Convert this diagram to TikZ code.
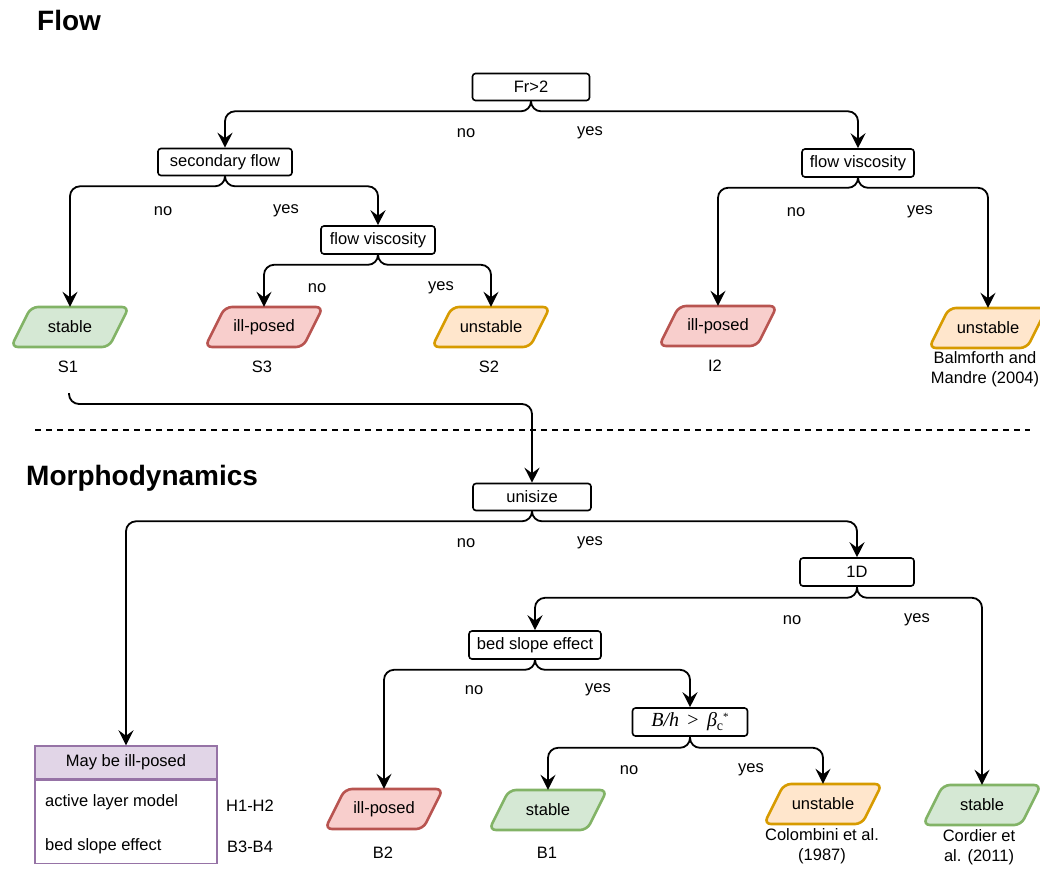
\documentclass[tikz,border=0pt]{standalone}
\usepackage[no-math]{fontspec}
\setmainfont{Liberation Sans}
\newfontfamily\serifm{Liberation Serif}
\usetikzlibrary{arrows.meta}
\definecolor{gstroke}{HTML}{82B366}
\definecolor{gfill}{HTML}{D5E8D4}
\definecolor{rstroke}{HTML}{B85450}
\definecolor{rfill}{HTML}{F8CECC}
\definecolor{ostroke}{HTML}{D79B00}
\definecolor{ofill}{HTML}{FFE6CC}
\definecolor{pstroke}{HTML}{9673A6}
\definecolor{pfill}{HTML}{E1D5E7}
\newcommand\paral[6]{%
  \draw[line width=2.6pt, draw=#4, fill=#5, rounded corners=7pt]
    (#2,#3) ++(-59,20) -- ++(98,0) -- ++(20,-40) -- ++(-98,0) -- cycle;
  \node[parabox] (#1) at (#2,#3) {#6};
}
\begin{document}
\begin{tikzpicture}[x=1pt,y=-1pt,
  font=\fontsize{16.5}{20}\selectfont,
  dec/.style={draw, line width=1.6pt, rounded corners=3pt, fill=white,
    minimum height=27pt, inner sep=2pt},
  conn/.style={line width=1.8pt, rounded corners=10pt,
    -{Stealth[length=15pt,width=15pt,inset=5.5pt]}},
  lab/.style={inner sep=0pt, align=center},
  parabox/.style={minimum width=118pt, minimum height=40pt, inner sep=0pt},
  title/.style={font=\fontsize{28}{32}\selectfont\bfseries, anchor=west, inner sep=0pt}
]
\useasboundingbox (0,0) rectangle (1040,868);

% titles
\node[title] (tflow) at (37,20) {Flow};
\node[title] (tmorph) at (26,478) {Morphodynamics};

% separator
\coordinate (sepL) at (35,430);
\coordinate (sepR) at (1030,430);
\draw[line width=1.3pt, dash pattern=on 6pt off 5pt] (sepL) -- (sepR);

% decision boxes
\node[dec, minimum width=117pt] (fr) at (531,87) {Fr>2};
\node[dec, minimum width=134pt] (sec) at (225,162) {secondary flow};
\node[dec, minimum width=114pt, minimum height=28pt] (fvA) at (378,240) {flow viscosity};
\node[dec, minimum width=112pt, minimum height=28pt] (fvB) at (858,163) {flow viscosity};
\node[dec, minimum width=118pt] (uni) at (532,497) {unisize};
\node[dec, minimum width=114pt, minimum height=28pt] (oned) at (857,572) {1D};
\node[dec, minimum width=132pt, minimum height=28pt] (bse) at (535,645) {bed slope effect};
\node[dec, minimum width=115pt, minimum height=28pt, font=\serifm\fontsize{20}{20}\selectfont] (bh) at (690,722)
  {\textit{B/h}\, >\, \textit{β}\raisebox{-4pt}{\fontsize{14}{14}\selectfont c}\raisebox{6pt}{\fontsize{11}{11}\selectfont *}};

% outcome parallelograms
\paral{s1}{70}{327}{gstroke}{gfill}{stable}
\paral{s3}{264}{327}{rstroke}{rfill}{ill-posed}
\paral{s2}{491}{327}{ostroke}{ofill}{unstable}
\paral{i2}{718}{326}{rstroke}{rfill}{ill-posed}
\paral{bm}{988}{328}{ostroke}{ofill}{unstable}
\paral{b2}{384}{809}{rstroke}{rfill}{ill-posed}
\paral{b1}{548}{810}{gstroke}{gfill}{stable}
\paral{col}{823}{804}{ostroke}{ofill}{unstable}
\paral{cor}{982}{805}{gstroke}{gfill}{stable}

% outcome labels
\node[lab] (ls1) at (68,367) {S1};
\node[lab] (ls3) at (262,367) {S3};
\node[lab] (ls2) at (489,367) {S2};
\node[lab] (li2) at (715,366) {I2};
\node[lab] (lbm) at (985,369) {Balmforth and\\Mandre (2004)};
\node[lab] (lb2) at (383,853) {B2};
\node[lab] (lb1) at (547,853) {B1};
\node[lab] (lcol) at (822,846) {Colombini et al.\\(1987)};
\node[lab] (lcor) at (979,847) {Cordier et\\al. (2011)};

% table
\node[draw=pstroke, fill=pfill, line width=1.5pt, minimum width=182pt, minimum height=33pt, inner sep=0pt] (hdr) at (126,762.5) {May be ill-posed};
\node[draw=pstroke, line width=1.5pt, minimum width=182pt, minimum height=83pt, inner sep=0pt, anchor=north] (body) at (hdr.south) {};
\node[lab, anchor=west] (r1) at (45,802) {active layer model};
\node[lab, anchor=west] (r2) at (45,846) {bed slope effect};
\node[lab] (h12) at (250,806) {H1-H2};
\node[lab] (b34) at (250,847) {B3-B4};

% yes/no labels
\node[lab] (n1) at (466,133) {no};
\node[lab] (y1) at (590,133) {yes};
\node[lab] (n2) at (163,211) {no};
\node[lab] (y2) at (286,211) {yes};
\node[lab] (n3) at (317,288) {no};
\node[lab] (y3) at (441,288) {yes};
\node[lab] (n4) at (796,212) {no};
\node[lab] (y4) at (920,212) {yes};
\node[lab] (n5) at (466,543) {no};
\node[lab] (y5) at (590,543) {yes};
\node[lab] (n6) at (792,620) {no};
\node[lab] (y6) at (917,620) {yes};
\node[lab] (n7) at (474,690) {no};
\node[lab] (y7) at (598,690) {yes};
\node[lab] (n8) at (629,770) {no};
\node[lab] (y8) at (751,770) {yes};

% connectors
\draw[conn] (fr.south) -- ++(0,10) -| (sec.north);
\draw[conn] (fr.south) -- ++(0,10) -| (fvB.north);
\draw[conn] (sec.south) -- ++(0,10) -| (s1.north);
\draw[conn] (sec.south) -- ++(0,10) -| (fvA.north);
\draw[conn] (fvA.south) -- ++(0,10) -| (s3.north);
\draw[conn] (fvA.south) -- ++(0,10) -| (s2.north);
\draw[conn] (fvB.south) -- ++(0,10) -| (i2.north);
\draw[conn] (fvB.south) -- ++(0,10) -| (bm.north);
\coordinate (s1out) at (69,393);
\draw[conn] (s1out) -- ++(0,11) -| (uni.north);
\draw[conn] (uni.south) -- ++(0,10) -| (hdr.north);
\draw[conn] (uni.south) -- ++(0,10) -| (oned.north);
\draw[conn] (oned.south) -- ++(0,11) -| (bse.north);
\draw[conn] (oned.south) -- ++(0,11) -| (cor.north);
\draw[conn] (bse.south) -- ++(0,10) -| (b2.north);
\draw[conn] (bse.south) -- ++(0,10) -| (bh.north);
\draw[conn] (bh.south) -- ++(0,11) -| (b1.north);
\draw[conn] (bh.south) -- ++(0,11) -| (col.north);
\end{tikzpicture}
\end{document}
